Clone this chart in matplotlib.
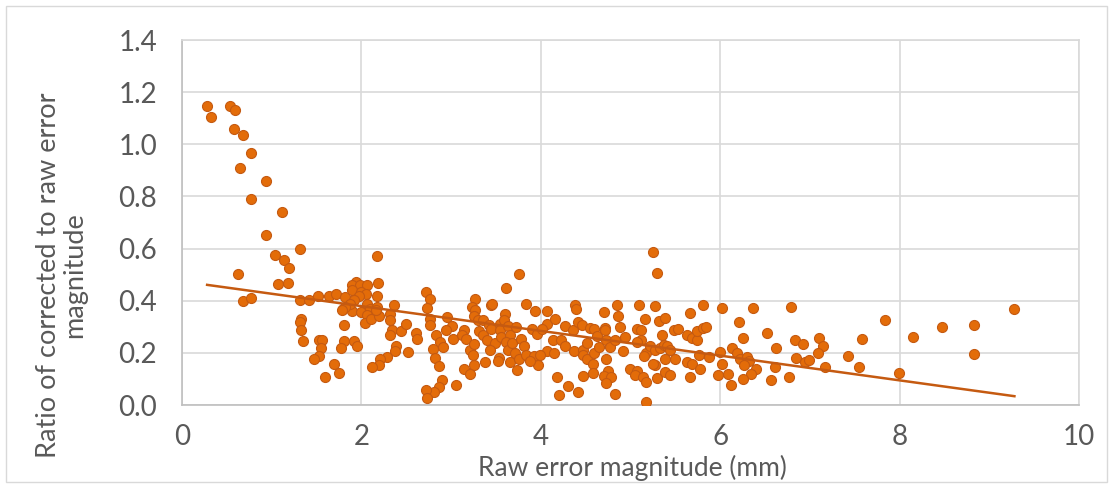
import matplotlib
matplotlib.use("Agg")
import matplotlib.pyplot as plt
import numpy as np
from matplotlib.patches import Rectangle

raw_error = [
    0.28, 0.32, 0.54, 0.59, 0.58, 0.68, 0.77, 0.65, 0.94, 0.77, 1.11, 0.94, 1.32, 1.04, 1.14, 1.19,
    0.62, 1.07, 1.18, 0.68, 0.77, 1.32, 1.42, 1.52, 1.64, 1.72, 1.82, 1.33, 1.31, 1.33, 1.35, 1.53,
    1.56, 1.55, 1.53, 1.47, 1.59, 1.70, 1.75, 1.81, 1.79, 1.81, 1.77, 1.92, 1.95, 1.89, 1.99,
    2.17, 1.94, 1.90, 1.98, 2.06, 1.90, 2.00, 2.05, 1.97, 1.92, 1.87, 1.82, 1.78, 2.06, 2.10, 2.06,
    2.04, 2.11, 2.17, 2.20, 2.19, 2.17, 2.16, 2.36, 2.32, 2.32, 2.34, 2.32, 2.44, 2.50, 2.61, 2.62,
    2.39, 2.38, 2.52, 2.28, 2.21, 2.20, 2.12,
    3.76, 3.61, 2.72, 2.77, 2.73, 2.77, 2.77, 2.95, 3.01, 2.94, 3.02, 2.83, 2.88, 2.91, 2.80, 2.82,
    2.87, 2.90, 2.86, 2.81, 2.72, 2.73, 3.05, 3.14, 3.12, 3.17, 3.21, 3.24, 3.25, 3.14, 3.21, 3.26,
    3.27, 3.23, 3.27, 3.25, 3.30, 3.36, 3.31, 3.36, 3.40, 3.45, 3.46, 3.42, 3.45, 3.49, 3.43, 3.38,
    3.53, 3.52, 3.55, 3.55, 3.56, 3.60, 3.59, 3.63, 3.66, 3.61, 3.63, 3.66, 3.68, 3.72, 3.71, 3.78,
    3.81, 3.76, 3.74, 3.84, 3.93, 3.84, 3.92, 3.90, 3.96, 3.97, 3.88,
    5.25, 5.29, 4.07, 4.07, 4.01, 4.16, 4.14, 4.07, 4.15, 3.99, 4.18, 4.20, 4.30, 4.42, 4.47, 4.38,
    4.39, 4.27, 4.22, 4.27, 4.36, 4.41, 4.46, 4.37, 4.47, 4.47, 4.52, 4.58, 4.58, 4.51, 4.55, 4.59,
    4.63, 4.59, 4.65, 4.71, 4.72, 4.72, 4.73, 4.77, 4.73, 4.75, 4.71, 4.78, 4.73, 4.83, 4.85, 4.86,
    4.88, 4.83, 4.94, 4.92, 4.99, 5.07, 5.09, 5.07, 5.12, 5.16, 5.12, 5.07, 5.05, 5.14, 5.17, 5.17,
    5.17, 5.15, 5.22, 5.27, 5.32, 5.27, 5.29, 5.25, 5.27, 5.33,
    5.81, 6.02, 6.37, 5.66, 5.39, 6.21, 6.52, 5.48, 5.53, 5.63, 5.69, 5.74, 5.74, 5.81, 5.84, 6.25,
    5.35, 5.37, 5.41, 5.44, 5.50, 5.39, 5.63, 5.69, 5.76, 5.88, 6.00, 6.02, 5.78, 6.13, 6.19, 6.22,
    6.30, 6.32, 6.27, 6.40, 6.34, 6.25, 6.09, 6.12, 5.98, 5.66, 5.39, 5.44, 6.61, 6.57, 6.62,
    6.79, 7.84, 8.15, 6.83, 6.92, 7.10, 7.15, 7.09, 6.84, 6.95, 6.99, 7.17, 7.42, 7.58, 7.55, 7.99,
    6.77, 8.47, 8.83, 9.28, 8.83,
]

ratio = [
    1.148, 1.106, 1.147, 1.131, 1.058, 1.037, 0.965, 0.909, 0.860, 0.790, 0.739, 0.653, 0.597, 0.576, 0.555, 0.525,
    0.504, 0.463, 0.469, 0.400, 0.409, 0.401, 0.401, 0.418, 0.417, 0.427, 0.413, 0.331, 0.320, 0.289, 0.247, 0.250,
    0.250, 0.218, 0.189, 0.175, 0.106, 0.157, 0.124, 0.305, 0.367, 0.244, 0.217, 0.244, 0.226, 0.361, 0.357,
    0.572, 0.472, 0.459, 0.459, 0.461, 0.440, 0.433, 0.427, 0.418, 0.401, 0.389, 0.376, 0.363, 0.386, 0.370, 0.344,
    0.316, 0.331, 0.376, 0.340, 0.469, 0.418, 0.363, 0.382, 0.348, 0.325, 0.289, 0.268, 0.284, 0.312, 0.277, 0.255,
    0.226, 0.207, 0.204, 0.185, 0.178, 0.152, 0.144,
    0.504, 0.449, 0.433, 0.405, 0.372, 0.331, 0.306, 0.338, 0.302, 0.289, 0.255, 0.268, 0.242, 0.221, 0.213, 0.181,
    0.149, 0.096, 0.070, 0.051, 0.057, 0.026, 0.075, 0.287, 0.268, 0.255, 0.210, 0.191, 0.153, 0.140, 0.119, 0.233,
    0.405, 0.376, 0.363, 0.340, 0.325, 0.325, 0.284, 0.268, 0.251, 0.382, 0.389, 0.306, 0.293, 0.236, 0.210, 0.166,
    0.182, 0.169, 0.312, 0.289, 0.261, 0.348, 0.325, 0.302, 0.268, 0.242, 0.210, 0.166, 0.236, 0.299, 0.198, 0.255,
    0.226, 0.175, 0.136, 0.389, 0.361, 0.191, 0.187, 0.293, 0.274, 0.153, 0.169,
    0.586, 0.506, 0.361, 0.310, 0.293, 0.328, 0.249, 0.208, 0.200, 0.191, 0.108, 0.038, 0.074, 0.051, 0.112, 0.382,
    0.370, 0.302, 0.249, 0.226, 0.289, 0.319, 0.306, 0.207, 0.210, 0.191, 0.178, 0.157, 0.121, 0.238, 0.297, 0.293,
    0.264, 0.198, 0.221, 0.357, 0.297, 0.287, 0.249, 0.223, 0.176, 0.131, 0.111, 0.108, 0.085, 0.042, 0.385, 0.341,
    0.299, 0.251, 0.261, 0.208, 0.140, 0.131, 0.382, 0.293, 0.287, 0.329, 0.251, 0.242, 0.115, 0.108, 0.089, 0.013,
    0.198, 0.187, 0.226, 0.379, 0.322, 0.153, 0.102, 0.157, 0.210, 0.217,
    0.382, 0.372, 0.372, 0.353, 0.335, 0.319, 0.278, 0.289, 0.290, 0.270, 0.257, 0.249, 0.283, 0.296, 0.301, 0.257,
    0.268, 0.232, 0.227, 0.210, 0.178, 0.178, 0.166, 0.157, 0.191, 0.185, 0.204, 0.159, 0.140, 0.217, 0.198, 0.176,
    0.185, 0.169, 0.153, 0.138, 0.117, 0.098, 0.119, 0.077, 0.115, 0.106, 0.127, 0.115, 0.146, 0.096, 0.217,
    0.376, 0.325, 0.261, 0.251, 0.233, 0.257, 0.226, 0.200, 0.181, 0.164, 0.172, 0.146, 0.189, 0.255, 0.146, 0.124,
    0.106, 0.299, 0.307, 0.367, 0.196,
]

x_ticks = [0, 2, 4, 6, 8, 10]
y_ticks = [0.0, 0.2, 0.4, 0.6, 0.8, 1.0, 1.2, 1.4]
x_label = "Raw error magnitude (mm)"
y_label = "Ratio of corrected to raw error\nmagnitude"

plt.rcParams['font.family'] = ['Lato', 'DejaVu Sans']

fig = plt.figure(figsize=(11.13, 4.86), dpi=100)
ax = fig.add_axes([182/1113, 1-405/486, (1079-182)/1113, (405-40)/486])

xa = np.array(raw_error)
ya = np.array(ratio)
ax.scatter(xa, ya, s=52, color='#E36C09', edgecolors='#C55A11', linewidths=0.8, zorder=3)

slope, intercept = np.polyfit(xa, ya, 1)
xl = np.array([xa.min(), xa.max()])
ax.plot(xl, slope*xl + intercept, color='#C55A11', lw=1.8, zorder=4)

ax.set_xlim(0, 10)
ax.set_ylim(0, 1.4)
ax.set_xticks(x_ticks)
ax.set_xticklabels([str(t) for t in x_ticks])
ax.set_yticks(y_ticks)
ax.set_yticklabels([f"{t:.1f}" for t in y_ticks])
ax.grid(True, color='#D9D9D9', lw=1.2, zorder=0)
ax.set_axisbelow(True)
for s in ax.spines.values():
    s.set_color('#D9D9D9')
    s.set_linewidth(1.2)
ax.spines['bottom'].set_color('#BFBFBF')
ax.spines['left'].set_color('#BFBFBF')
ax.tick_params(length=0, labelsize=20, labelcolor='#595959')
ax.tick_params(axis='x', pad=14)
ax.tick_params(axis='y', pad=18)

fig.text(632/1113, 1-468/486, x_label, ha='center', va='center', fontsize=19, color='#595959')
fig.text(62/1113, 1-275/486, y_label, ha='center', va='center', rotation=90,
         fontsize=19.5, color='#595959', multialignment='center', linespacing=1.05)

fig.patches.append(Rectangle((6/1113, 4/486), 1101/1113, 476/486, transform=fig.transFigure,
                             fill=False, edgecolor='#D9D9D9', lw=1.0))

fig.savefig("out.png", dpi=100)
